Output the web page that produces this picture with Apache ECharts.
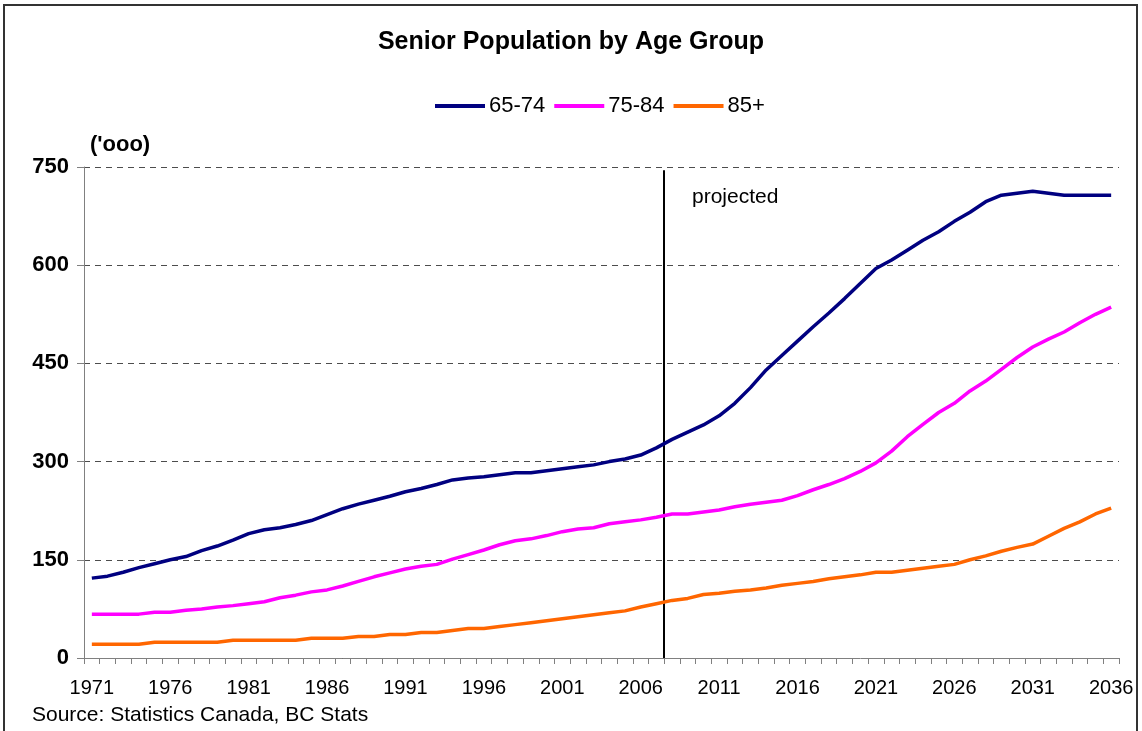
<!DOCTYPE html>
<html>
<head>
<meta charset="utf-8">
<title>Senior Population by Age Group</title>
<script src="https://cdn.jsdelivr.net/npm/echarts@6/dist/echarts.min.js"></script>
<style>
  html, body { margin: 0; padding: 0; background: #fff; }
  #wrap { position: relative; width: 1142px; height: 731px; overflow: hidden; }
  #chart { width: 1142px; height: 731px; }
  #frame { position: absolute; left: 3px; top: 4px; width: 1131px; height: 800px;
           border: 2px solid #333; pointer-events: none; }
</style>
</head>
<body>
<div id="wrap">
  <div id="chart"></div>
  <div id="frame"></div>
</div>
<script>
// years 1971 - 2036
var years = [];
for (var y = 1971; y <= 2036; y++) { years.push(String(y)); }

// population in thousands
var age65to74 = [122, 125, 131, 138, 144, 150, 155, 164, 171, 180,
                 190, 196, 199, 204, 210, 219, 228, 235, 241, 247,
                 254, 259, 265, 272, 275, 277, 280, 283, 283, 286,
                 289, 292, 295, 300, 304, 310, 321, 334, 345, 356,
                 370, 389, 413, 440, 462, 484, 506, 527, 549, 572,
                 595, 608, 623, 638, 651, 667, 681, 697, 707, 710,
                 713, 710, 707, 707, 707, 707];
var age75to84 = [67, 67, 67, 67, 70, 70, 73, 75, 78, 80,
                 83, 86, 92, 96, 101, 104, 110, 117, 124, 130,
                 136, 140, 143, 151, 158, 165, 173, 179, 182, 187,
                 193, 197, 199, 205, 208, 211, 215, 220, 220, 223,
                 226, 231, 235, 238, 241, 248, 257, 265, 274, 285,
                 298, 316, 338, 357, 375, 389, 408, 423, 441, 459,
                 475, 487, 498, 512, 525, 536];
var age85plus = [21, 21, 21, 21, 24, 24, 24, 24, 24, 27,
                 27, 27, 27, 27, 30, 30, 30, 33, 33, 36,
                 36, 39, 39, 42, 45, 45, 48, 51, 54, 57,
                 60, 63, 66, 69, 72, 78, 83, 88, 91, 97,
                 99, 102, 104, 107, 111, 114, 117, 121, 124, 127,
                 131, 131, 134, 137, 140, 143, 150, 156, 163, 169,
                 174, 186, 198, 208, 220, 229];

var seriesNames = ['65-74', '75-84', '85+'];
var projectedFrom = 2007.5; // boundary between actual and projected

var font = "'Liberation Sans', Arial, sans-serif";

var myChart = echarts.init(document.getElementById('chart'));

var option = {
  backgroundColor: '#fff',
  animation: false,
  textStyle: { fontFamily: font, color: '#000' },
  title: {
    text: 'Senior Population by Age Group',
    left: 'center',
    top: 30,
    padding: 0,
    textStyle: { fontFamily: font, fontSize: 25, fontWeight: 'bold', color: '#000' }
  },
  color: ['#000080', '#ff00ff', '#ff6600'],
  legend: {
    data: seriesNames,
    left: 435,
    top: 95,
    padding: 0,
    icon: 'rect',
    itemWidth: 50,
    itemHeight: 4,
    itemGap: 9,
    textStyle: { fontFamily: font, fontSize: 22, color: '#000', padding: [0, 0, 0, -1] }
  },
  grid: {
    left: 84,
    right: 23,
    top: 167,
    bottom: 73,
    containLabel: false,
    outerBoundsMode: 'none'
  },
  xAxis: [{
    type: 'category',
    data: years,
    boundaryGap: true,
    axisLine: { lineStyle: { color: '#808080', width: 1 } },
    axisTick: { show: true, interval: 0, length: 6, lineStyle: { color: '#808080' } },
    axisLabel: { interval: 4, margin: 20, fontFamily: font, fontSize: 20, color: '#000' },
    splitLine: { show: false }
  }, {
    // hidden helper axis so the "projected" divider can sit between two years
    type: 'value',
    min: 1970.5,
    max: 2036.5,
    show: false
  }],
  yAxis: {
    type: 'value',
    min: 0,
    max: 750,
    interval: 150,
    axisLine: { show: true, lineStyle: { color: '#808080', width: 1 } },
    axisTick: { show: true, length: 7, lineStyle: { color: '#808080' } },
    axisLabel: { margin: 15, fontFamily: font, fontSize: 22, fontWeight: 'bold', color: '#000' },
    splitLine: { show: true, lineStyle: { color: '#4d4d4d', width: 1, type: [6, 5] } }
  },
  series: [{
    name: seriesNames[0],
    type: 'line',
    data: age65to74,
    showSymbol: false,
    lineStyle: { width: 3.5, color: '#000080' },
    z: 5
  }, {
    name: seriesNames[1],
    type: 'line',
    data: age75to84,
    showSymbol: false,
    lineStyle: { width: 3.5, color: '#ff00ff' },
    z: 5
  }, {
    name: seriesNames[2],
    type: 'line',
    data: age85plus,
    showSymbol: false,
    lineStyle: { width: 3.5, color: '#ff6600' },
    z: 5
  }, {
    name: 'divider',
    type: 'line',
    xAxisIndex: 1,
    data: [],
    silent: true,
    markLine: {
      silent: true,
      symbol: 'none',
      label: { show: false },
      lineStyle: { color: '#000', width: 2, type: 'solid' },
      data: [[{ coord: [projectedFrom, 0] }, { coord: [projectedFrom, 745] }]]
    }
  }],
  graphic: [{
    type: 'text',
    left: 90,
    top: 134,
    style: { text: "('ooo)", font: 'bold 22px ' + font, fill: '#000' }
  }, {
    type: 'text',
    left: 692,
    top: 187,
    style: { text: 'projected', font: '21px ' + font, fill: '#000' }
  }, {
    type: 'text',
    left: 32,
    top: 705,
    style: { text: 'Source: Statistics Canada, BC Stats', font: '21px ' + font, fill: '#000' }
  }]
};

myChart.setOption(option);
</script>
</body>
</html>
